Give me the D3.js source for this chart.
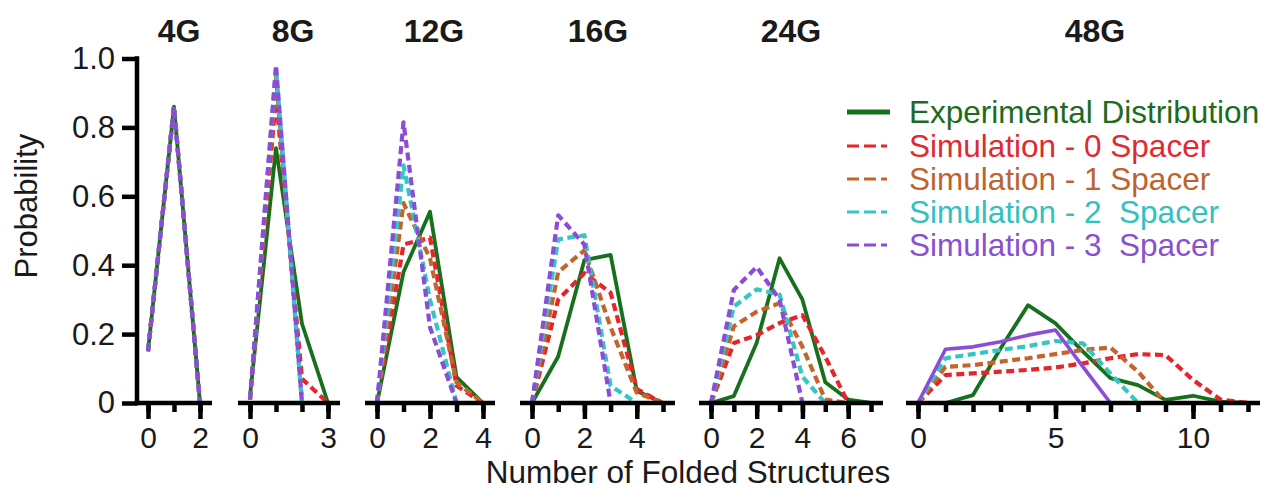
<!DOCTYPE html>
<html>
<head>
<meta charset="utf-8">
<script src="https://cdn.jsdelivr.net/npm/d3@7"></script>
<style>
  html, body { margin: 0; padding: 0; background: #fff; }
  svg { display: block; }
  text { font-family: "Liberation Sans", Arial, Helvetica, sans-serif; fill: #1a1a1a; }
</style>
</head>
<body>
<svg id="chart" width="1266" height="490"></svg>
<script>
// Number of folded structures per construct (index = number of folded structures, from 0)
const panelTitles = ["4G", "8G", "12G", "16G", "24G", "48G"];
const xMaxes = [2, 3, 4, 5, 7, 12];
const xTickLabels = [[0, 2], [0, 3], [0, 2, 4], [0, 2, 4], [0, 2, 4, 6], [0, 5, 10]];
const yTicks = [0, 0.2, 0.4, 0.6, 0.8, 1.0];

const experimental = [
  [0.15, 0.86, 0],
  [0.02, 0.74, 0.23, 0],
  [0, 0.38, 0.555, 0.075, 0],
  [0, 0.135, 0.415, 0.43, 0.035, 0],
  [0, 0.02, 0.175, 0.42, 0.30, 0.06, 0.01, 0],
  [0, 0, 0.023, 0.158, 0.284, 0.231, 0.149, 0.072, 0.052, 0.009, 0.021, 0.004, 0]
];
const sim0Spacer = [
  [0.15, 0.86, 0],
  [0.01, 0.89, 0.07, 0],
  [0, 0.46, 0.48, 0.05, 0],
  [0, 0.30, 0.377, 0.32, 0.04, 0],
  [0, 0.174, 0.197, 0.232, 0.255, 0.134, 0],
  [0, 0.081, 0.086, 0.091, 0.096, 0.103, 0.115, 0.13, 0.142, 0.139, 0.067, 0.01, 0]
];
const sim1Spacer = [
  [0.15, 0.86, 0],
  [0.01, 0.95, 0],
  [0, 0.58, 0.42, 0.06, 0],
  [0, 0.38, 0.443, 0.22, 0.03, 0],
  [0, 0.223, 0.265, 0.29, 0.163, 0.01, 0],
  [0, 0.105, 0.11, 0.12, 0.13, 0.142, 0.154, 0.161, 0.091, 0]
];
const sim2Spacer = [
  [0.15, 0.86, 0],
  [0.01, 0.97, 0],
  [0, 0.69, 0.30, 0],
  [0, 0.475, 0.487, 0.05, 0],
  [0, 0.28, 0.33, 0.315, 0.076, 0],
  [0, 0.13, 0.142, 0.154, 0.165, 0.18, 0.173, 0.085, 0]
];
const sim3Spacer = [
  [0.15, 0.86, 0],
  [0.01, 0.98, 0],
  [0, 0.815, 0.22, 0],
  [0, 0.545, 0.46, 0],
  [0, 0.328, 0.395, 0.30, 0],
  [0, 0.156, 0.163, 0.178, 0.197, 0.212, 0.105, 0]
];

const seriesNames = [
  "Experimental Distribution",
  "Simulation - 0 Spacer",
  "Simulation - 1 Spacer",
  "Simulation - 2  Spacer",
  "Simulation - 3  Spacer"
];
const seriesData = [experimental, sim0Spacer, sim1Spacer, sim2Spacer, sim3Spacer];

// Styling
const colors = ["#17701c", "#e5252b", "#c4642c", "#36c5c5", "#8b4dd6"];
const dashed = [false, true, true, true, true];
const textColors = ["#1d6b20", "#df2a30", "#bd6330", "#33c0c0", "#8a50d0"];
// the 3-spacer simulation of the 48G construct is plotted as a solid line
const solidOverride = { 4: ["48G"] };

// Layout: pixel positions of the first and last integer tick of each panel
const panelPx = [[148, 200], [250, 328], [377, 483], [532, 663], [711, 871], [918, 1248]];
const titleX = [179, 293, 434, 598, 791, 1095];
const axisPad = 12;
const yAxisX = 137;
const fontStack = "'Liberation Sans', Arial, sans-serif";

const svg = d3.select("#chart");
const y = d3.scaleLinear().domain([0, 1]).range([403, 58.5]);

// Y axis
const yAxis = svg.append("g")
  .attr("transform", `translate(${yAxisX},0)`)
  .call(d3.axisLeft(y).tickValues(yTicks)
    .tickFormat(d => d === 0 ? "0" : d3.format(".1f")(d))
    .tickSize(15).tickSizeOuter(0).tickPadding(7));
yAxis.select(".domain").attr("stroke", "#000").attr("stroke-width", 4.5)
  .attr("d", `M0,${y(0) + 2.25}V${y(1) - 2.25}`);
yAxis.selectAll(".tick line").attr("stroke", "#000").attr("stroke-width", 4.5);
yAxis.selectAll(".tick text").attr("font-size", 31).attr("fill", "#1a1a1a")
  .attr("font-family", fontStack);

svg.append("text")
  .attr("transform", `translate(37,206) rotate(-90)`)
  .attr("text-anchor", "middle")
  .attr("font-size", 31)
  .text("Probability");

svg.append("text")
  .attr("x", 688).attr("y", 483.3)
  .attr("text-anchor", "middle")
  .attr("font-size", 31.5)
  .text("Number of Folded Structures");

panelTitles.forEach((title, p) => {
  const x = d3.scaleLinear().domain([0, xMaxes[p]]).range(panelPx[p]);
  const g = svg.append("g");

  // data lines
  const line = d3.line().x((d, i) => x(i)).y(d => y(d)).curve(d3.curveLinear);
  seriesData.forEach((series, s) => {
    const isSolid = !dashed[s] || (solidOverride[s] || []).includes(title);
    g.append("path")
      .datum(series[p])
      .attr("d", line)
      .attr("fill", "none")
      .attr("stroke", colors[s])
      .attr("stroke-width", s === 0 ? 3.8 : (isSolid ? 3.6 : 4.2))
      .attr("stroke-linejoin", "round")
      .attr("stroke-dasharray", isSolid ? null : "8,4.5");
  });

  // x axis: minor ticks at every integer, longer labelled ticks
  const axG = g.append("g").attr("transform", `translate(0,${y(0)})`);
  const minor = axG.append("g").call(d3.axisBottom(x).tickValues(d3.range(0, xMaxes[p] + 1))
    .tickFormat("").tickSize(9).tickSizeOuter(0));
  minor.select(".domain").remove();
  const major = axG.append("g").call(d3.axisBottom(x).tickValues(xTickLabels[p])
    .tickFormat(d3.format("d")).tickSize(16).tickSizeOuter(0).tickPadding(8));
  major.select(".domain").remove();
  axG.selectAll(".tick line").attr("stroke", "#000").attr("stroke-width", 4.5);
  major.selectAll(".tick text").attr("font-size", 30).attr("fill", "#1a1a1a")
    .attr("font-family", fontStack);
  const x0 = p === 0 ? yAxisX - 2.25 : x(0) - axisPad;
  axG.append("line")
    .attr("x1", x0).attr("x2", x(xMaxes[p]) + axisPad)
    .attr("y1", 0).attr("y2", 0)
    .attr("stroke", "#000").attr("stroke-width", 4.5);

  svg.append("text")
    .attr("x", titleX[p]).attr("y", 42)
    .attr("text-anchor", "middle")
    .attr("font-size", 32).attr("font-weight", "bold")
    .text(title);
});

// Legend
const legendRows = [112, 146, 179, 212, 245];
const legend = svg.append("g");
seriesNames.forEach((name, s) => {
  const ry = legendRows[s];
  legend.append("line")
    .attr("x1", 847).attr("x2", dashed[s] ? 887 : 890)
    .attr("y1", ry).attr("y2", ry)
    .attr("stroke", colors[s])
    .attr("stroke-width", dashed[s] ? 3 : 4.8)
    .attr("stroke-dasharray", dashed[s] ? "12,5" : null);
  legend.append("text")
    .attr("x", 909).attr("y", ry + 10.5)
    .attr("font-size", 31.5)
    .style("fill", textColors[s])
    .style("white-space", "pre")
    .text(name);
});
</script>
</body>
</html>
